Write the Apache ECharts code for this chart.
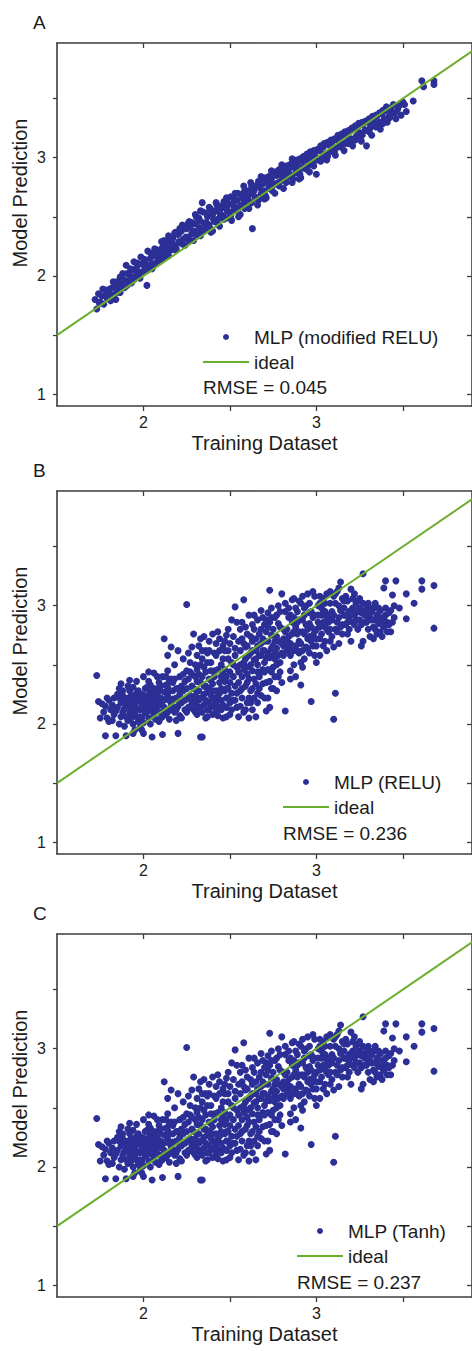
<!DOCTYPE html>
<html><head><meta charset="utf-8">
<script src="https://cdn.jsdelivr.net/npm/echarts@6/dist/echarts.min.js"></script>
<style>html,body{margin:0;padding:0;background:#fff}#c{width:472px;height:1351px}</style>
</head><body><div id="c"></div>
<script>
const panelLetters = ['A', 'B', 'C'];
const seriesNames = ['MLP (modified RELU)', 'MLP (RELU)', 'MLP (Tanh)'];
const rmseLabels = ['RMSE = 0.045', 'RMSE = 0.236', 'RMSE = 0.237'];
const xAxisTitle = 'Training Dataset';
const yAxisTitle = 'Model Prediction';
const xTicks = [2, 2.5, 3, 3.5];
const xTickLabels = [2, 3];
const yTicks = [1, 1.5, 2, 2.5, 3, 3.5];
const yTickLabels = [1, 2, 3];
const idealLine = [[1.5, 1.5], [4, 4]];

const modifiedReluPoints = [
[1.72,1.80],[1.73,1.72],[1.74,1.85],[1.75,1.78],[1.76,1.83],[1.77,1.76],[1.78,1.88],[1.79,1.81],[1.80,1.86],[1.81,1.79],
[1.82,1.90],[1.83,1.84],[1.84,1.80],[1.85,1.91],[1.86,1.87],[1.87,1.93],[1.88,2.02],[1.89,1.90],[1.90,2.09],[1.91,1.96],
[1.92,2.01],[1.93,1.94],[1.94,2.05],[1.95,1.99],[1.96,2.07],[1.97,2.02],[1.98,1.98],[1.99,2.10],[2.00,2.04],[2.01,2.12],
[2.02,1.92],[2.03,2.08],[2.04,2.15],[2.05,2.06],[2.06,2.17],[2.07,2.11],[2.08,2.20],[2.09,2.13],[2.10,2.18],[2.11,2.24],
[2.12,2.16],[2.13,2.25],[2.14,2.20],[2.15,2.29],[2.16,2.22],[2.17,2.32],[2.18,2.26],[2.19,2.23],[2.20,2.35],[2.21,2.28],
[2.22,2.38],[2.23,2.31],[2.24,2.26],[2.25,2.40],[2.26,2.33],[2.27,2.42],[2.28,2.36],[2.29,2.30],[2.30,2.44],[2.31,2.38],
[2.32,2.49],[2.33,2.34],[2.34,2.62],[2.35,2.45],[2.36,2.40],[2.37,2.50],[2.38,2.43],[2.39,2.37],[2.40,2.52],[2.41,2.46],
[2.42,2.55],[2.43,2.48],[2.44,2.42],[2.45,2.57],[2.46,2.51],[2.47,2.58],[2.48,2.49],[2.49,2.60],[2.50,2.54],[2.51,2.47],
[2.52,2.62],[2.53,2.56],[2.54,2.64],[2.55,2.58],[2.56,2.52],[2.57,2.66],[2.58,2.61],[2.59,2.68],[2.60,2.63],[2.61,2.57],
[2.62,2.70],[2.63,2.40],[2.64,2.72],[2.65,2.66],[2.66,2.60],[2.67,2.75],[2.68,2.69],[2.69,2.78],[2.70,2.72],[2.71,2.66],
[2.72,2.80],[2.73,2.74],[2.74,2.82],[2.75,2.77],[2.76,2.70],[2.77,2.85],[2.78,2.79],[2.79,2.86],[2.80,2.81],[2.81,2.74],
[2.82,2.88],[2.83,2.83],[2.84,2.90],[2.85,2.85],[2.86,2.79],[2.87,2.92],[2.88,2.87],[2.89,2.94],[2.90,2.89],[2.91,2.83],
[2.92,2.97],[2.93,2.91],[2.94,2.98],[2.95,2.93],[2.96,2.88],[2.97,3.01],[2.98,2.95],[2.99,3.03],[3.00,2.86],[3.01,2.98],
[3.02,3.06],[3.03,3.00],[3.04,3.09],[3.05,3.03],[3.06,2.98],[3.07,3.11],[3.08,3.05],[3.09,3.13],[3.10,3.08],[3.11,3.02],
[3.12,3.15],[3.13,3.10],[3.14,3.17],[3.15,3.12],[3.16,3.06],[3.17,3.19],[3.18,3.14],[3.19,3.22],[3.20,3.16],[3.21,3.10],
[3.22,3.24],[3.23,3.18],[3.24,3.26],[3.25,3.21],[3.26,3.14],[3.27,3.28],[3.28,3.23],[3.29,3.10],[3.30,3.30],[3.31,3.25],
[3.32,3.19],[3.33,3.32],[3.34,3.27],[3.35,3.35],[3.36,3.29],[3.37,3.24],[3.38,3.37],[3.39,3.32],[3.40,3.40],[3.41,3.30],
[3.42,3.35],[3.43,3.42],[3.44,3.38],[3.46,3.33],[3.48,3.44],[3.50,3.47],[3.52,3.39],[3.56,3.48],[3.61,3.65],[3.62,3.60],
[3.68,3.65],[3.68,3.62],
[1.805,1.89],[1.825,1.82],[1.845,1.95],[1.865,1.86],[1.885,1.97],[1.905,1.92],[1.925,2.06],[1.945,1.97],[1.965,2.11],[1.985,2.03],
[2.005,2.14],[2.025,2.05],[2.045,2.19],[2.065,2.10],[2.085,2.22],[2.105,2.14],[2.125,2.27],[2.145,2.17],[2.165,2.30],[2.185,2.22],
[2.205,2.36],[2.225,2.27],[2.245,2.41],[2.265,2.30],[2.285,2.45],[2.305,2.35],[2.325,2.47],[2.345,2.38],[2.365,2.53],[2.385,2.40],
[2.405,2.55],[2.425,2.45],[2.445,2.59],[2.465,2.48],[2.485,2.62],[2.505,2.51],[2.525,2.65],[2.545,2.55],[2.565,2.69],[2.585,2.57],
[2.605,2.72],[2.625,2.62],[2.645,2.76],[2.665,2.64],[2.685,2.79],[2.705,2.68],[2.725,2.84],[2.745,2.72],[2.765,2.88],[2.785,2.76],
[2.805,2.91],[2.825,2.79],[2.845,2.94],[2.865,2.82],[2.885,2.98],[2.905,2.86],[2.925,3.01],[2.945,2.90],[2.965,3.05],[2.985,2.93],
[3.005,3.07],[3.025,2.97],[3.045,3.12],[3.065,3.01],[3.085,3.15],[3.105,3.05],[3.125,3.19],[3.145,3.09],[3.165,3.22],[3.185,3.12],
[3.205,3.25],[3.225,3.15],[3.245,3.29],[3.265,3.19],[3.285,3.31],[3.305,3.22],[3.325,3.35],[3.345,3.26],[3.365,3.38],[3.385,3.29],
[3.405,3.43],[3.425,3.34],[3.445,3.45],
[1.745,1.77],[1.765,1.89],[1.785,1.84],[1.805,1.80],[1.825,1.95],[1.845,1.86],[1.865,1.99],[1.885,1.91],[1.905,2.02],[1.925,1.97],
[1.945,2.12],[1.965,2.02],[1.985,2.16],[2.005,2.09],[2.025,2.21],[2.045,2.10],[2.065,2.23],[2.085,2.15],[2.105,2.29],[2.125,2.21],
[2.145,2.34],[2.165,2.25],[2.185,2.37],[2.205,2.29],[2.225,2.43],[2.245,2.33],[2.265,2.46],[2.285,2.38],[2.305,2.50],[2.325,2.41],
[2.345,2.54],[2.365,2.45],[2.385,2.57],[2.405,2.48],[2.425,2.60],[2.445,2.52],[2.465,2.63],[2.485,2.55],[2.505,2.67],[2.525,2.58],
[2.545,2.70],[2.565,2.60],[2.585,2.72],[2.605,2.66],[2.625,2.76],[2.645,2.67],[2.665,2.80],[2.685,2.72],[2.705,2.83],[2.725,2.76],
[2.745,2.87],[2.765,2.78],[2.785,2.90],[2.805,2.84],[2.825,2.93],[2.845,2.86],[2.865,2.96],[2.885,2.90],[2.905,2.99],[2.925,2.92],
[2.945,3.03],[2.965,2.96],[2.985,3.06],[3.005,2.99],[3.025,3.10],[3.045,3.02],[3.065,3.13],[3.085,3.06],[3.105,3.16],[3.125,3.09],
[3.145,3.20],[3.165,3.12],[3.185,3.23],[3.205,3.15],[3.225,3.27],[3.245,3.19],[3.265,3.30],[3.285,3.23],[3.305,3.33],[3.325,3.27],
[3.345,3.36],[3.365,3.30],[3.385,3.40],[3.405,3.33],[3.425,3.40],[3.455,3.38],[3.47,3.41],[3.49,3.36],[3.51,3.45],
[2.12,2.30],[2.18,2.36],[2.21,2.40],[2.26,2.45],[2.30,2.52],[2.33,2.55],[2.38,2.58],[2.42,2.62],[2.48,2.66],[2.53,2.70],
[2.58,2.76],[2.62,2.79],[2.68,2.84],[2.74,2.89],[2.80,2.94],[2.86,2.99],[2.55,2.50],[2.70,2.65],[2.90,2.82],[2.40,2.38]
];

const reluPoints = [
[1.73,2.41],[1.74,2.19],[1.75,2.05],[1.76,2.17],
[1.78,1.90],[1.78,2.15],[1.79,2.05],[1.80,2.20],[1.81,2.12],[1.80,2.02],
[1.83,2.22],[1.84,1.90],[1.83,2.08],[1.85,2.25],[1.86,2.00],[1.85,2.14],[1.86,2.30],
[1.88,2.28],[1.88,2.10],[1.89,2.20],[1.90,1.90],[1.91,2.03],[1.90,2.15],[1.91,2.32],[1.89,1.98],
[1.92,2.10],[1.93,2.24],[1.94,2.00],[1.95,2.17],[1.94,2.31],[1.96,2.06],[1.95,1.95],[1.96,2.26],[1.93,2.13],[1.96,2.20],
[1.97,2.02],[1.98,2.12],[1.99,2.25],[2.00,1.92],[1.99,2.05],[2.00,2.18],[2.01,2.30],[1.98,1.97],[2.01,2.09],[1.97,2.21],[2.00,2.14],
[2.02,2.16],[2.03,2.05],[2.04,2.27],[2.05,1.89],[2.05,2.11],[2.06,2.20],[2.03,2.36],[2.04,2.00],[2.06,2.43],[2.02,2.24],[2.06,2.08],
[2.07,2.14],[2.08,2.30],[2.09,2.02],[2.10,2.22],[2.11,2.40],[2.08,2.18],[2.10,2.10],[2.11,1.91],[2.09,2.35],[2.07,2.26],[2.11,2.06],[2.12,2.72],
[2.13,2.12],[2.14,2.24],[2.15,2.04],[2.13,2.33],[2.16,2.17],[2.14,2.45],[2.15,2.28],[2.16,2.38],[2.13,2.08],[2.16,2.65],[2.14,2.58],
[2.17,2.21],[2.18,2.10],[2.19,2.30],[2.20,1.92],[2.20,2.15],[2.21,2.40],[2.18,2.50],[2.19,2.03],[2.21,2.25],[2.17,2.35],[2.20,2.62],[2.21,2.07],
[2.22,2.18],[2.23,2.28],[2.24,2.12],[2.25,2.45],[2.23,2.55],[2.25,3.01],[2.26,2.22],[2.24,2.36],[2.22,2.05],[2.26,2.60],[2.25,2.10],[2.23,2.42],
[2.27,2.14],[2.28,2.32],[2.29,2.22],[2.30,2.50],[2.31,2.08],[2.28,2.65],[2.30,2.40],[2.29,2.76],[2.31,2.28],[2.27,2.44],[2.30,2.17],[2.31,2.58],
[2.33,1.89],[2.34,1.89],[2.32,2.20],[2.33,2.35],[2.34,2.10],[2.35,2.48],[2.36,2.62],[2.33,2.72],[2.35,2.25],[2.36,2.05],[2.34,2.55],[2.32,2.42],[2.36,2.32],[2.35,2.16],
[2.37,2.12],[2.38,2.30],[2.39,2.45],[2.40,2.22],[2.41,2.60],[2.38,2.70],[2.40,2.08],[2.39,2.37],[2.41,2.15],[2.37,2.52],[2.40,2.28],[2.41,2.45],[2.38,2.18],
[2.42,2.10],[2.43,2.24],[2.44,2.35],[2.45,2.50],[2.46,2.66],[2.43,2.78],[2.44,2.14],[2.45,2.30],[2.46,2.42],[2.42,2.58],[2.45,2.20],[2.43,2.07],[2.46,2.05],
[2.47,2.36],[2.48,2.22],[2.49,2.55],[2.50,2.68],[2.51,2.12],[2.48,2.75],[2.50,2.44],[2.49,2.30],[2.51,2.88],[2.47,2.62],[2.50,2.18],[2.48,2.06],[2.51,2.52],
[2.52,2.40],[2.53,2.58],[2.54,2.26],[2.55,2.70],[2.56,2.15],[2.53,2.99],[2.54,2.48],[2.55,2.35],[2.56,2.80],[2.52,2.20],[2.55,2.06],[2.53,2.64],[2.56,2.50],
[2.57,2.30],[2.58,2.52],[2.59,2.65],[2.60,2.42],[2.61,2.22],[2.58,3.05],[2.60,2.76],[2.59,2.12],[2.61,2.58],[2.57,2.86],[2.60,2.35],[2.61,2.05],[2.58,2.46],
[2.62,2.50],[2.63,2.62],[2.64,2.38],[2.65,2.72],[2.66,2.26],[2.63,2.84],[2.65,2.55],[2.64,2.92],[2.66,2.44],[2.62,2.18],[2.65,2.06],[2.66,2.66],[2.63,2.30],
[2.67,2.58],[2.68,2.96],[2.69,2.46],[2.70,2.70],[2.71,2.35],[2.68,2.80],[2.70,2.22],[2.69,2.62],[2.71,2.88],[2.67,2.40],[2.70,2.52],[2.71,2.11],[2.68,2.68],
[2.72,2.60],[2.73,3.13],[2.74,2.75],[2.75,2.48],[2.76,2.90],[2.73,2.36],[2.75,2.66],[2.74,2.98],[2.76,2.55],[2.72,2.82],[2.75,2.30],[2.76,2.70],[2.73,2.14],
[2.77,2.64],[2.78,2.85],[2.79,2.52],[2.80,3.10],[2.81,2.72],[2.78,2.40],[2.80,2.60],[2.79,2.95],[2.81,2.80],[2.77,2.50],[2.80,2.35],[2.81,2.66],[2.78,3.00],
[2.82,2.11],[2.83,2.70],[2.84,2.90],[2.85,2.58],[2.86,3.05],[2.83,2.80],[2.85,2.45],[2.84,2.65],[2.86,2.76],[2.82,2.95],[2.85,2.38],[2.86,2.86],
[2.87,2.62],[2.88,2.82],[2.89,2.95],[2.90,2.70],[2.91,2.52],[2.88,2.40],[2.90,2.88],[2.89,2.76],[2.91,3.02],[2.87,2.50],[2.90,2.60],[2.91,2.33],
[2.92,2.78],[2.93,2.92],[2.94,2.65],[2.95,3.10],[2.96,2.85],[2.93,2.55],[2.95,2.72],[2.94,3.00],[2.96,2.60],[2.92,2.48],[2.97,2.19],[2.95,2.80],
[2.97,2.70],[2.98,2.90],[2.99,2.58],[3.00,2.80],[3.01,3.00],[2.98,2.75],[3.00,2.66],[2.99,3.08],[3.01,2.86],[2.97,2.95],[3.00,2.52],
[3.02,2.72],[3.03,2.92],[3.04,3.06],[3.05,2.82],[3.06,2.62],[3.03,2.98],[3.05,2.70],[3.04,2.86],[3.06,3.10],[3.02,2.58],[3.05,2.95],
[3.07,2.78],[3.08,3.02],[3.09,2.88],[3.10,3.08],[3.10,2.04],[3.11,2.26],[3.08,2.70],[3.09,2.95],[3.11,2.80],[3.07,2.92],[3.10,2.65],
[3.12,2.86],[3.13,3.00],[3.14,3.20],[3.15,2.76],[3.16,2.92],[3.13,2.68],[3.15,3.06],[3.14,2.82],[3.16,2.98],[3.12,3.12],
[3.17,2.84],[3.18,3.04],[3.19,2.90],[3.20,2.70],[3.21,2.98],[3.18,2.76],[3.20,3.14],[3.19,2.95],[3.21,2.86],[3.17,3.08],
[3.22,2.92],[3.23,3.02],[3.24,2.80],[3.25,2.98],[3.26,2.66],[3.23,2.88],[3.25,3.06],[3.24,2.95],[3.26,2.84],[3.22,3.10],
[3.27,3.27],[3.28,2.96],[3.29,2.86],[3.30,3.02],[3.31,2.74],[3.28,2.92],[3.30,2.80],[3.29,3.00],[3.31,2.90],[3.27,2.70],
[3.32,2.95],[3.33,2.82],[3.34,2.88],[3.35,2.76],[3.36,2.98],[3.33,2.72],[3.35,2.92],[3.34,3.02],[3.36,2.85],
[3.37,2.78],[3.38,2.90],[3.39,3.15],[3.40,3.21],[3.41,2.86],[3.38,2.74],[3.40,2.98],[3.39,2.82],
[3.42,2.84],[3.43,2.96],[3.44,3.09],[3.46,3.21],[3.45,2.90],[3.43,2.78],
[3.48,2.98],[3.52,3.10],[3.52,2.89],[3.565,3.02],[3.61,3.21],[3.61,3.14],[3.68,3.17],[3.68,2.81],
[1.77,2.10],[1.79,2.22],[1.82,2.16],[1.82,2.03],[1.84,2.11],[1.87,2.06],[1.87,2.18],[1.88,2.24],[1.89,2.13],[1.86,2.22],
[1.90,2.06],[1.91,2.22],[1.92,2.17],[1.92,2.28],[1.93,2.05],[1.94,2.19],[1.95,2.09],[1.95,2.24],[1.96,2.13],[1.97,2.28],
[1.98,2.19],[1.98,2.06],[1.99,2.15],[2.00,2.24],[2.00,2.01],[2.01,2.20],[2.02,2.10],[2.02,2.31],[2.03,2.19],[2.04,2.12],
[2.04,2.33],[2.05,2.23],[2.05,2.16],[2.06,2.30],[2.07,2.04],[2.07,2.20],[2.08,2.11],[2.08,2.25],[2.09,2.16],[2.09,2.28],
[2.10,2.05],[2.10,2.32],[2.11,2.19],[2.12,2.27],[2.12,2.14],[2.13,2.21],[2.13,2.40],[2.14,2.10],[2.14,2.31],[2.15,2.20],
[2.15,2.36],[2.16,2.12],[2.17,2.28],[2.17,2.15],[2.18,2.38],[2.19,2.22],[2.19,2.12],[2.20,2.30],[2.21,2.18],[2.22,2.32],
[2.24,2.20],[2.25,2.30],[2.26,2.14],[2.26,2.38],[2.27,2.24],[2.27,2.52],[2.28,2.18],[2.28,2.42],[2.29,2.30],[2.29,2.12],
[2.30,2.24],[2.31,2.36],[2.31,2.46],[2.32,2.14],[2.32,2.28],[2.33,2.50],[2.33,2.22],[2.34,2.40],[2.34,2.62],[2.35,2.32],
[2.36,2.20],[2.36,2.44],[2.37,2.27],[2.37,2.60],[2.38,2.38],[2.38,2.12],[2.39,2.24],[2.39,2.52],[2.40,2.34],[2.40,2.15],
[2.41,2.40],[2.42,2.28],[2.42,2.18],[2.43,2.46],[2.44,2.26],[2.44,2.62],[2.45,2.40],[2.46,2.16],[2.46,2.55],[2.47,2.28],
[2.47,2.46],[2.48,2.14],[2.48,2.40],[2.49,2.62],[2.49,2.22],[2.50,2.35],[2.51,2.26],[2.52,2.50],[2.53,2.32],[2.54,2.14],
[2.55,2.44],[2.56,2.62],[2.57,2.40],[2.57,2.22],[2.58,2.68],[2.59,2.32],[2.59,2.55],[2.60,2.48],[2.60,2.66],[2.61,2.38],
[2.62,2.60],[2.62,2.28],[2.63,2.45],[2.63,2.70],[2.64,2.54],[2.64,2.22],[2.65,2.34],[2.65,2.62],[2.66,2.50],[2.67,2.76],
[2.67,2.30],[2.68,2.44],[2.68,2.58],[2.69,2.72],[2.69,2.34],[2.70,2.62],[2.70,2.44],[2.71,2.56],[2.71,2.78],[2.72,2.46],
[2.72,2.70],[2.73,2.56],[2.73,2.86],[2.74,2.44],[2.74,2.64],[2.75,2.58],[2.75,2.80],[2.76,2.40],[2.76,2.62],[2.77,2.74],
[2.77,2.92],[2.78,2.58],[2.78,2.70],[2.79,2.82],[2.79,2.44],[2.80,2.68],[2.81,2.58],[2.82,2.78],[2.83,2.62],[2.84,2.74],
[2.85,2.68],[2.85,2.92],[2.86,2.62],[2.87,2.78],[2.87,2.90],[2.88,2.66],[2.88,2.98],[2.89,2.62],[2.89,2.86],[2.90,2.78],
[2.91,2.68],[2.92,2.88],[2.92,2.62],[2.93,2.76],[2.93,2.98],[2.94,2.84],[2.95,2.64],[2.96,2.74],[2.96,2.94],[2.97,2.82],
[2.98,2.66],[2.99,2.78],[2.99,2.92],[3.00,2.72],[3.01,2.92],[3.02,2.82],[3.02,3.02],[3.03,2.76],[3.04,2.66],[3.04,2.96],
[3.06,2.80],[3.06,2.90],[3.07,2.86],[3.08,2.80],[3.09,2.74],[3.10,2.92],[3.11,3.02],[3.12,2.78],[3.13,2.90],[3.14,2.96],
[3.15,2.84],[3.16,3.04],[3.17,2.92],[3.18,2.86],[3.19,2.80],[3.20,2.96],[3.21,3.06],[3.22,2.84],[3.23,2.96],[3.24,3.04],
[3.25,2.88],[3.26,2.94],[3.27,3.02],[3.28,2.86],[3.29,2.94],[3.30,2.90],[3.31,2.98],[3.32,2.88],[3.33,2.98],[3.34,2.80],
[3.35,2.98],[3.36,2.90],[3.37,2.96],[3.38,2.84],[3.39,2.88],[3.40,2.92],[3.41,2.78],[3.42,2.94],[3.44,2.86],[3.45,3.00],
[2.32,2.66],[2.35,2.74],[2.38,2.62],[2.40,2.76],[2.42,2.68],[2.44,2.72],[2.47,2.70],[2.49,2.80],[2.52,2.74],[2.54,2.86],
[2.57,2.72],[2.59,2.82],[2.61,2.92],[2.62,2.74],[2.64,2.80],[2.66,2.88],[2.69,2.90],[2.70,2.84],[2.72,2.94],[2.74,2.90],
[2.82,3.02],[2.84,2.98],[2.87,3.06],[2.90,3.04],[2.92,3.08],[2.96,3.02],[2.98,3.12],[3.02,3.08],[3.05,3.02],[3.08,3.12],
[3.11,3.10],[3.13,3.15],
[2.30,2.10],[2.33,2.14],[2.37,2.06],[2.39,2.16],[2.42,2.22],[2.45,2.12],[2.48,2.30],[2.50,2.08],[2.53,2.20],[2.56,2.28],
[2.58,2.10],[2.60,2.18],[2.63,2.12],[2.66,2.18],[2.68,2.24],[2.72,2.22],[2.74,2.30],[2.77,2.28],
[1.87,2.34],[1.92,2.37],[1.96,2.36],[2.00,2.40],[2.03,2.44],[2.08,2.40],[1.94,1.92],[1.99,1.95]
];

const tanhPoints = [
[1.73,2.41],[1.74,2.19],[1.75,2.05],[1.76,2.17],
[1.78,1.90],[1.78,2.15],[1.79,2.05],[1.80,2.20],[1.81,2.12],[1.80,2.02],
[1.83,2.22],[1.84,1.90],[1.83,2.08],[1.85,2.25],[1.86,2.00],[1.85,2.14],[1.86,2.30],
[1.88,2.28],[1.88,2.10],[1.89,2.20],[1.90,1.90],[1.91,2.03],[1.90,2.15],[1.91,2.32],[1.89,1.98],
[1.92,2.10],[1.93,2.24],[1.94,2.00],[1.95,2.17],[1.94,2.31],[1.96,2.06],[1.95,1.95],[1.96,2.26],[1.93,2.13],[1.96,2.20],
[1.97,2.02],[1.98,2.12],[1.99,2.25],[2.00,1.92],[1.99,2.05],[2.00,2.18],[2.01,2.30],[1.98,1.97],[2.01,2.09],[1.97,2.21],[2.00,2.14],
[2.02,2.16],[2.03,2.05],[2.04,2.27],[2.05,1.89],[2.05,2.11],[2.06,2.20],[2.03,2.36],[2.04,2.00],[2.06,2.43],[2.02,2.24],[2.06,2.08],
[2.07,2.14],[2.08,2.30],[2.09,2.02],[2.10,2.22],[2.11,2.40],[2.08,2.18],[2.10,2.10],[2.11,1.91],[2.09,2.35],[2.07,2.26],[2.11,2.06],[2.12,2.72],
[2.13,2.12],[2.14,2.24],[2.15,2.04],[2.13,2.33],[2.16,2.17],[2.14,2.45],[2.15,2.28],[2.16,2.38],[2.13,2.08],[2.16,2.65],[2.14,2.58],
[2.17,2.21],[2.18,2.10],[2.19,2.30],[2.20,1.92],[2.20,2.15],[2.21,2.40],[2.18,2.50],[2.19,2.03],[2.21,2.25],[2.17,2.35],[2.20,2.62],[2.21,2.07],
[2.22,2.18],[2.23,2.28],[2.24,2.12],[2.25,2.45],[2.23,2.55],[2.25,3.01],[2.26,2.22],[2.24,2.36],[2.22,2.05],[2.26,2.60],[2.25,2.10],[2.23,2.42],
[2.27,2.14],[2.28,2.32],[2.29,2.22],[2.30,2.50],[2.31,2.08],[2.28,2.65],[2.30,2.40],[2.29,2.76],[2.31,2.28],[2.27,2.44],[2.30,2.17],[2.31,2.58],
[2.33,1.89],[2.34,1.89],[2.32,2.20],[2.33,2.35],[2.34,2.10],[2.35,2.48],[2.36,2.62],[2.33,2.72],[2.35,2.25],[2.36,2.05],[2.34,2.55],[2.32,2.42],[2.36,2.32],[2.35,2.16],
[2.37,2.12],[2.38,2.30],[2.39,2.45],[2.40,2.22],[2.41,2.60],[2.38,2.70],[2.40,2.08],[2.39,2.37],[2.41,2.15],[2.37,2.52],[2.40,2.28],[2.41,2.45],[2.38,2.18],
[2.42,2.10],[2.43,2.24],[2.44,2.35],[2.45,2.50],[2.46,2.66],[2.43,2.78],[2.44,2.14],[2.45,2.30],[2.46,2.42],[2.42,2.58],[2.45,2.20],[2.43,2.07],[2.46,2.05],
[2.47,2.36],[2.48,2.22],[2.49,2.55],[2.50,2.68],[2.51,2.12],[2.48,2.75],[2.50,2.44],[2.49,2.30],[2.51,2.88],[2.47,2.62],[2.50,2.18],[2.48,2.06],[2.51,2.52],
[2.52,2.40],[2.53,2.58],[2.54,2.26],[2.55,2.70],[2.56,2.15],[2.53,2.99],[2.54,2.48],[2.55,2.35],[2.56,2.80],[2.52,2.20],[2.55,2.06],[2.53,2.64],[2.56,2.50],
[2.57,2.30],[2.58,2.52],[2.59,2.65],[2.60,2.42],[2.61,2.22],[2.58,3.05],[2.60,2.76],[2.59,2.12],[2.61,2.58],[2.57,2.86],[2.60,2.35],[2.61,2.05],[2.58,2.46],
[2.62,2.50],[2.63,2.62],[2.64,2.38],[2.65,2.72],[2.66,2.26],[2.63,2.84],[2.65,2.55],[2.64,2.92],[2.66,2.44],[2.62,2.18],[2.65,2.06],[2.66,2.66],[2.63,2.30],
[2.67,2.58],[2.68,2.96],[2.69,2.46],[2.70,2.70],[2.71,2.35],[2.68,2.80],[2.70,2.22],[2.69,2.62],[2.71,2.88],[2.67,2.40],[2.70,2.52],[2.71,2.11],[2.68,2.68],
[2.72,2.60],[2.73,3.13],[2.74,2.75],[2.75,2.48],[2.76,2.90],[2.73,2.36],[2.75,2.66],[2.74,2.98],[2.76,2.55],[2.72,2.82],[2.75,2.30],[2.76,2.70],[2.73,2.14],
[2.77,2.64],[2.78,2.85],[2.79,2.52],[2.80,3.10],[2.81,2.72],[2.78,2.40],[2.80,2.60],[2.79,2.95],[2.81,2.80],[2.77,2.50],[2.80,2.35],[2.81,2.66],[2.78,3.00],
[2.82,2.11],[2.83,2.70],[2.84,2.90],[2.85,2.58],[2.86,3.05],[2.83,2.80],[2.85,2.45],[2.84,2.65],[2.86,2.76],[2.82,2.95],[2.85,2.38],[2.86,2.86],
[2.87,2.62],[2.88,2.82],[2.89,2.95],[2.90,2.70],[2.91,2.52],[2.88,2.40],[2.90,2.88],[2.89,2.76],[2.91,3.02],[2.87,2.50],[2.90,2.60],[2.91,2.33],
[2.92,2.78],[2.93,2.92],[2.94,2.65],[2.95,3.10],[2.96,2.85],[2.93,2.55],[2.95,2.72],[2.94,3.00],[2.96,2.60],[2.92,2.48],[2.97,2.19],[2.95,2.80],
[2.97,2.70],[2.98,2.90],[2.99,2.58],[3.00,2.80],[3.01,3.00],[2.98,2.75],[3.00,2.66],[2.99,3.08],[3.01,2.86],[2.97,2.95],[3.00,2.52],
[3.02,2.72],[3.03,2.92],[3.04,3.06],[3.05,2.82],[3.06,2.62],[3.03,2.98],[3.05,2.70],[3.04,2.86],[3.06,3.10],[3.02,2.58],[3.05,2.95],
[3.07,2.78],[3.08,3.02],[3.09,2.88],[3.10,3.08],[3.10,2.04],[3.11,2.26],[3.08,2.70],[3.09,2.95],[3.11,2.80],[3.07,2.92],[3.10,2.65],
[3.12,2.86],[3.13,3.00],[3.14,3.20],[3.15,2.76],[3.16,2.92],[3.13,2.68],[3.15,3.06],[3.14,2.82],[3.16,2.98],[3.12,3.12],
[3.17,2.84],[3.18,3.04],[3.19,2.90],[3.20,2.70],[3.21,2.98],[3.18,2.76],[3.20,3.14],[3.19,2.95],[3.21,2.86],[3.17,3.08],
[3.22,2.92],[3.23,3.02],[3.24,2.80],[3.25,2.98],[3.26,2.66],[3.23,2.88],[3.25,3.06],[3.24,2.95],[3.26,2.84],[3.22,3.10],
[3.27,3.27],[3.28,2.96],[3.29,2.86],[3.30,3.02],[3.31,2.74],[3.28,2.92],[3.30,2.80],[3.29,3.00],[3.31,2.90],[3.27,2.70],
[3.32,2.95],[3.33,2.82],[3.34,2.88],[3.35,2.76],[3.36,2.98],[3.33,2.72],[3.35,2.92],[3.34,3.02],[3.36,2.85],
[3.37,2.78],[3.38,2.90],[3.39,3.15],[3.40,3.21],[3.41,2.86],[3.38,2.74],[3.40,2.98],[3.39,2.82],
[3.42,2.84],[3.43,2.96],[3.44,3.09],[3.46,3.21],[3.45,2.90],[3.43,2.78],
[3.48,2.98],[3.52,3.10],[3.52,2.89],[3.565,3.02],[3.61,3.21],[3.61,3.14],[3.68,3.17],[3.68,2.81],
[1.77,2.10],[1.79,2.22],[1.82,2.16],[1.82,2.03],[1.84,2.11],[1.87,2.06],[1.87,2.18],[1.88,2.24],[1.89,2.13],[1.86,2.22],
[1.90,2.06],[1.91,2.22],[1.92,2.17],[1.92,2.28],[1.93,2.05],[1.94,2.19],[1.95,2.09],[1.95,2.24],[1.96,2.13],[1.97,2.28],
[1.98,2.19],[1.98,2.06],[1.99,2.15],[2.00,2.24],[2.00,2.01],[2.01,2.20],[2.02,2.10],[2.02,2.31],[2.03,2.19],[2.04,2.12],
[2.04,2.33],[2.05,2.23],[2.05,2.16],[2.06,2.30],[2.07,2.04],[2.07,2.20],[2.08,2.11],[2.08,2.25],[2.09,2.16],[2.09,2.28],
[2.10,2.05],[2.10,2.32],[2.11,2.19],[2.12,2.27],[2.12,2.14],[2.13,2.21],[2.13,2.40],[2.14,2.10],[2.14,2.31],[2.15,2.20],
[2.15,2.36],[2.16,2.12],[2.17,2.28],[2.17,2.15],[2.18,2.38],[2.19,2.22],[2.19,2.12],[2.20,2.30],[2.21,2.18],[2.22,2.32],
[2.24,2.20],[2.25,2.30],[2.26,2.14],[2.26,2.38],[2.27,2.24],[2.27,2.52],[2.28,2.18],[2.28,2.42],[2.29,2.30],[2.29,2.12],
[2.30,2.24],[2.31,2.36],[2.31,2.46],[2.32,2.14],[2.32,2.28],[2.33,2.50],[2.33,2.22],[2.34,2.40],[2.34,2.62],[2.35,2.32],
[2.36,2.20],[2.36,2.44],[2.37,2.27],[2.37,2.60],[2.38,2.38],[2.38,2.12],[2.39,2.24],[2.39,2.52],[2.40,2.34],[2.40,2.15],
[2.41,2.40],[2.42,2.28],[2.42,2.18],[2.43,2.46],[2.44,2.26],[2.44,2.62],[2.45,2.40],[2.46,2.16],[2.46,2.55],[2.47,2.28],
[2.47,2.46],[2.48,2.14],[2.48,2.40],[2.49,2.62],[2.49,2.22],[2.50,2.35],[2.51,2.26],[2.52,2.50],[2.53,2.32],[2.54,2.14],
[2.55,2.44],[2.56,2.62],[2.57,2.40],[2.57,2.22],[2.58,2.68],[2.59,2.32],[2.59,2.55],[2.60,2.48],[2.60,2.66],[2.61,2.38],
[2.62,2.60],[2.62,2.28],[2.63,2.45],[2.63,2.70],[2.64,2.54],[2.64,2.22],[2.65,2.34],[2.65,2.62],[2.66,2.50],[2.67,2.76],
[2.67,2.30],[2.68,2.44],[2.68,2.58],[2.69,2.72],[2.69,2.34],[2.70,2.62],[2.70,2.44],[2.71,2.56],[2.71,2.78],[2.72,2.46],
[2.72,2.70],[2.73,2.56],[2.73,2.86],[2.74,2.44],[2.74,2.64],[2.75,2.58],[2.75,2.80],[2.76,2.40],[2.76,2.62],[2.77,2.74],
[2.77,2.92],[2.78,2.58],[2.78,2.70],[2.79,2.82],[2.79,2.44],[2.80,2.68],[2.81,2.58],[2.82,2.78],[2.83,2.62],[2.84,2.74],
[2.85,2.68],[2.85,2.92],[2.86,2.62],[2.87,2.78],[2.87,2.90],[2.88,2.66],[2.88,2.98],[2.89,2.62],[2.89,2.86],[2.90,2.78],
[2.91,2.68],[2.92,2.88],[2.92,2.62],[2.93,2.76],[2.93,2.98],[2.94,2.84],[2.95,2.64],[2.96,2.74],[2.96,2.94],[2.97,2.82],
[2.98,2.66],[2.99,2.78],[2.99,2.92],[3.00,2.72],[3.01,2.92],[3.02,2.82],[3.02,3.02],[3.03,2.76],[3.04,2.66],[3.04,2.96],
[3.06,2.80],[3.06,2.90],[3.07,2.86],[3.08,2.80],[3.09,2.74],[3.10,2.92],[3.11,3.02],[3.12,2.78],[3.13,2.90],[3.14,2.96],
[3.15,2.84],[3.16,3.04],[3.17,2.92],[3.18,2.86],[3.19,2.80],[3.20,2.96],[3.21,3.06],[3.22,2.84],[3.23,2.96],[3.24,3.04],
[3.25,2.88],[3.26,2.94],[3.27,3.02],[3.28,2.86],[3.29,2.94],[3.30,2.90],[3.31,2.98],[3.32,2.88],[3.33,2.98],[3.34,2.80],
[3.35,2.98],[3.36,2.90],[3.37,2.96],[3.38,2.84],[3.39,2.88],[3.40,2.92],[3.41,2.78],[3.42,2.94],[3.44,2.86],[3.45,3.00],
[2.32,2.66],[2.35,2.74],[2.38,2.62],[2.40,2.76],[2.42,2.68],[2.44,2.72],[2.47,2.70],[2.49,2.80],[2.52,2.74],[2.54,2.86],
[2.57,2.72],[2.59,2.82],[2.61,2.92],[2.62,2.74],[2.64,2.80],[2.66,2.88],[2.69,2.90],[2.70,2.84],[2.72,2.94],[2.74,2.90],
[2.82,3.02],[2.84,2.98],[2.87,3.06],[2.90,3.04],[2.92,3.08],[2.96,3.02],[2.98,3.12],[3.02,3.08],[3.05,3.02],[3.08,3.12],
[3.11,3.10],[3.13,3.15],
[2.30,2.10],[2.33,2.14],[2.37,2.06],[2.39,2.16],[2.42,2.22],[2.45,2.12],[2.48,2.30],[2.50,2.08],[2.53,2.20],[2.56,2.28],
[2.58,2.10],[2.60,2.18],[2.63,2.12],[2.66,2.18],[2.68,2.24],[2.72,2.22],[2.74,2.30],[2.77,2.28],
[1.87,2.34],[1.92,2.37],[1.96,2.36],[2.00,2.40],[2.03,2.44],[2.08,2.40],[1.94,1.92],[1.99,1.95]
];

const pointSets = [modifiedReluPoints, reluPoints, tanhPoints];

// styling and layout (pixels)
const FONT = "'Liberation Sans', Arial, sans-serif";
const TEXT = '#1c1c1c';
const AXIS = '#3c3c3c';
const DOT = '#2c2f95';
const GREEN = '#6cae2e';
const X_MIN = 1.5, X_MAX = 3.9, Y_MIN = 0.9, Y_MAX = 3.97;
const layout = [
  { top: 43, legendLeft: 203, legendRow: 294, rmseRow: 344 },
  { top: 491, legendLeft: 283, legendRow: 291, rmseRow: 342 },
  { top: 934, legendLeft: 297, legendRow: 297, rmseRow: 348 }
];

const grid = [], xAxis = [], yAxis = [], series = [], legend = [], graphic = [];
layout.forEach((L, i) => {
  grid.push({ left: 57, top: L.top, width: 420, height: 363 });
  const axisLine = { show: true, onZero: false, lineStyle: { color: AXIS, width: 1.6 } };
  const tickStyle = { color: AXIS, width: 1.3 };
  xAxis.push({
    type: 'value', gridIndex: i, position: 'bottom', min: X_MIN, max: X_MAX,
    axisLine, splitLine: { show: false },
    axisTick: { show: true, inside: false, length: 5, customValues: xTicks, lineStyle: tickStyle },
    axisLabel: { customValues: xTickLabels, margin: 8, fontSize: 16, color: TEXT, fontFamily: FONT },
    name: xAxisTitle, nameLocation: 'middle', nameGap: 27,
    nameTextStyle: { fontSize: 20, color: TEXT, fontFamily: FONT }
  });
  xAxis.push({
    type: 'value', gridIndex: i, position: 'top', min: X_MIN, max: X_MAX,
    axisLine, splitLine: { show: false },
    axisTick: { show: true, inside: true, length: 5, customValues: xTicks, lineStyle: tickStyle },
    axisLabel: { show: false }
  });
  yAxis.push({
    type: 'value', gridIndex: i, position: 'left', min: Y_MIN, max: Y_MAX,
    axisLine, splitLine: { show: false },
    axisTick: { show: true, inside: false, length: 4, customValues: yTicks, lineStyle: tickStyle },
    axisLabel: { customValues: yTickLabels, margin: 11, fontSize: 16, color: TEXT, fontFamily: FONT }
  });
  yAxis.push({
    type: 'value', gridIndex: i, position: 'right', min: Y_MIN, max: Y_MAX,
    axisLine, splitLine: { show: false },
    axisTick: { show: true, inside: true, length: 5, customValues: yTicks, lineStyle: tickStyle },
    axisLabel: { show: false }
  });
  series.push({
    type: 'scatter', name: seriesNames[i], xAxisIndex: 2 * i, yAxisIndex: 2 * i,
    data: pointSets[i], symbol: 'circle', symbolSize: 7,
    itemStyle: { color: DOT, opacity: 1 }, silent: true, animation: false, z: 2
  });
  series.push({
    type: 'line', name: 'ideal', xAxisIndex: 2 * i, yAxisIndex: 2 * i,
    data: idealLine, showSymbol: false, symbol: 'none', clip: true,
    lineStyle: { color: GREEN, width: 2 }, itemStyle: { color: GREEN },
    silent: true, animation: false, z: 3
  });
  legend.push({
    orient: 'vertical', left: L.legendLeft, top: L.top + L.legendRow - 9.5,
    padding: 0, itemWidth: 46, itemHeight: 6, itemGap: 6, selectedMode: false,
    data: [
      { name: seriesNames[i], icon: 'circle' },
      { name: 'ideal', icon: 'path://M0 0H46V2H0Z' }
    ],
    textStyle: { fontSize: 19, color: TEXT, fontFamily: FONT }
  });
  graphic.push({
    type: 'text', x: 33, y: L.top - 21,
    style: { text: panelLetters[i], fill: TEXT, font: '19px ' + FONT, verticalAlign: 'middle' }
  });
  graphic.push({
    type: 'text', x: 20, y: L.top + 150, rotation: Math.PI / 2,
    style: { text: yAxisTitle, fill: TEXT, font: '20px ' + FONT, align: 'center', verticalAlign: 'middle' }
  });
  graphic.push({
    type: 'text', x: L.legendLeft, y: L.top + L.rmseRow,
    style: { text: rmseLabels[i], fill: TEXT, font: '19px ' + FONT, align: 'left', verticalAlign: 'middle' }
  });
});

const chart = echarts.init(document.getElementById('c'), null, { renderer: 'svg' });
chart.setOption({
  backgroundColor: '#ffffff',
  animation: false,
  grid, xAxis, yAxis, series, legend, graphic
});
</script>
</body></html>
